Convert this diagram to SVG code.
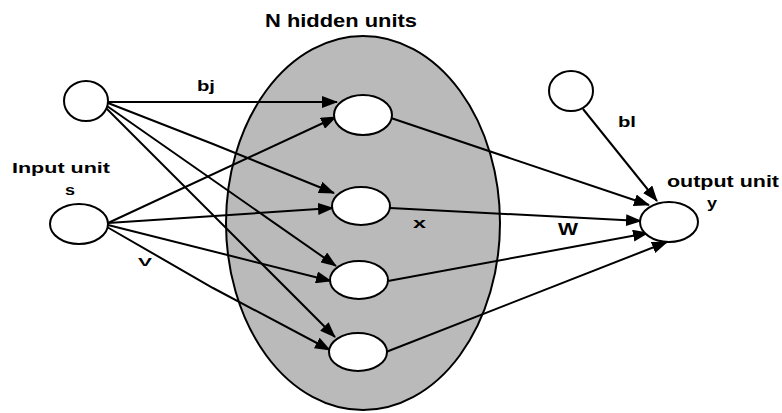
<svg xmlns="http://www.w3.org/2000/svg" width="782" height="413" viewBox="0 0 782 413">
  <style>
    .unit { fill: #ffffff; stroke: #000000; stroke-width: 2; }
    .layer { fill: #bababa; stroke: #000000; stroke-width: 2; }
    .edge { fill: none; stroke: #000000; stroke-width: 2; marker-end: url(#arrow); }
    .lbl { font-family: "Liberation Sans", Arial, sans-serif; font-weight: bold; fill: #000000; }
  </style>
  <defs>
    <marker id="arrow" markerUnits="userSpaceOnUse" markerWidth="16" markerHeight="12" refX="15" refY="6" orient="auto">
      <path d="M0,0 L16,6 L0,12 z" fill="#000000"/>
    </marker>
  </defs>

  <!-- hidden layer -->
  <g id="hidden-layer">
    <ellipse class="layer" cx="363" cy="223" rx="137" ry="187"/>
    <text class="lbl" x="265" y="27" font-size="19" textLength="152" lengthAdjust="spacingAndGlyphs">N hidden units</text>
  </g>

  <!-- connectors -->
  <g id="connectors">
    <path class="edge" d="M108,102 L337,102"/>
    <path class="edge" d="M108,103 L213,144 L334,193"/>
    <path class="edge" d="M107,106 L336,266"/>
    <path class="edge" d="M106,108 L335,337"/>
    <path class="edge" d="M108,223 L336,117"/>
    <path class="edge" d="M108,223 L333,208"/>
    <path class="edge" d="M108,225 L331,281"/>
    <path class="edge" d="M107,227 L213,288 L330,350"/>
    <path class="edge" d="M391,118 L649,205"/>
    <path class="edge" d="M390,208 L641,221"/>
    <path class="edge" d="M388,281 L648,233"/>
    <path class="edge" d="M386,352 L667,242"/>
    <path class="edge" d="M583,109 L657,201"/>
  </g>

  <g id="bias-j">
    <ellipse class="unit" cx="86" cy="101" rx="22" ry="20"/>
  </g>
  <g id="input-s">
    <ellipse class="unit" cx="79" cy="224" rx="29" ry="20"/>
    <text class="lbl" x="12" y="173" font-size="15" textLength="98" lengthAdjust="spacingAndGlyphs">Input unit</text>
    <text class="lbl" x="65" y="195" font-size="14" textLength="10" lengthAdjust="spacingAndGlyphs">s</text>
  </g>
  <g id="hidden-1">
    <ellipse class="unit" cx="363" cy="115" rx="29" ry="20"/>
  </g>
  <g id="hidden-2">
    <ellipse class="unit" cx="361" cy="206" rx="29" ry="19"/>
  </g>
  <g id="hidden-3">
    <ellipse class="unit" cx="359" cy="280" rx="29" ry="19"/>
  </g>
  <g id="hidden-4">
    <ellipse class="unit" cx="358" cy="352" rx="29" ry="19"/>
  </g>
  <g id="bias-l">
    <ellipse class="unit" cx="571" cy="91" rx="22" ry="20"/>
  </g>
  <g id="output-y">
    <ellipse class="unit" cx="669" cy="222" rx="29" ry="20"/>
    <text class="lbl" x="667" y="187" font-size="16" textLength="112" lengthAdjust="spacingAndGlyphs">output unit</text>
    <text class="lbl" x="707" y="208" font-size="15" textLength="10" lengthAdjust="spacingAndGlyphs">y</text>
  </g>

  <!-- weight labels -->
  <g id="labels">
    <text class="lbl" x="197" y="91" font-size="15" textLength="18" lengthAdjust="spacingAndGlyphs">bj</text>
    <text class="lbl" x="618" y="127" font-size="14" textLength="18" lengthAdjust="spacingAndGlyphs">bl</text>
    <text class="lbl" x="413" y="228" font-size="15" textLength="13" lengthAdjust="spacingAndGlyphs">x</text>
    <text class="lbl" x="558" y="235" font-size="16" textLength="20" lengthAdjust="spacingAndGlyphs">W</text>
    <text class="lbl" x="138" y="266" font-size="11" textLength="14" lengthAdjust="spacingAndGlyphs">V</text>
  </g>
</svg>
